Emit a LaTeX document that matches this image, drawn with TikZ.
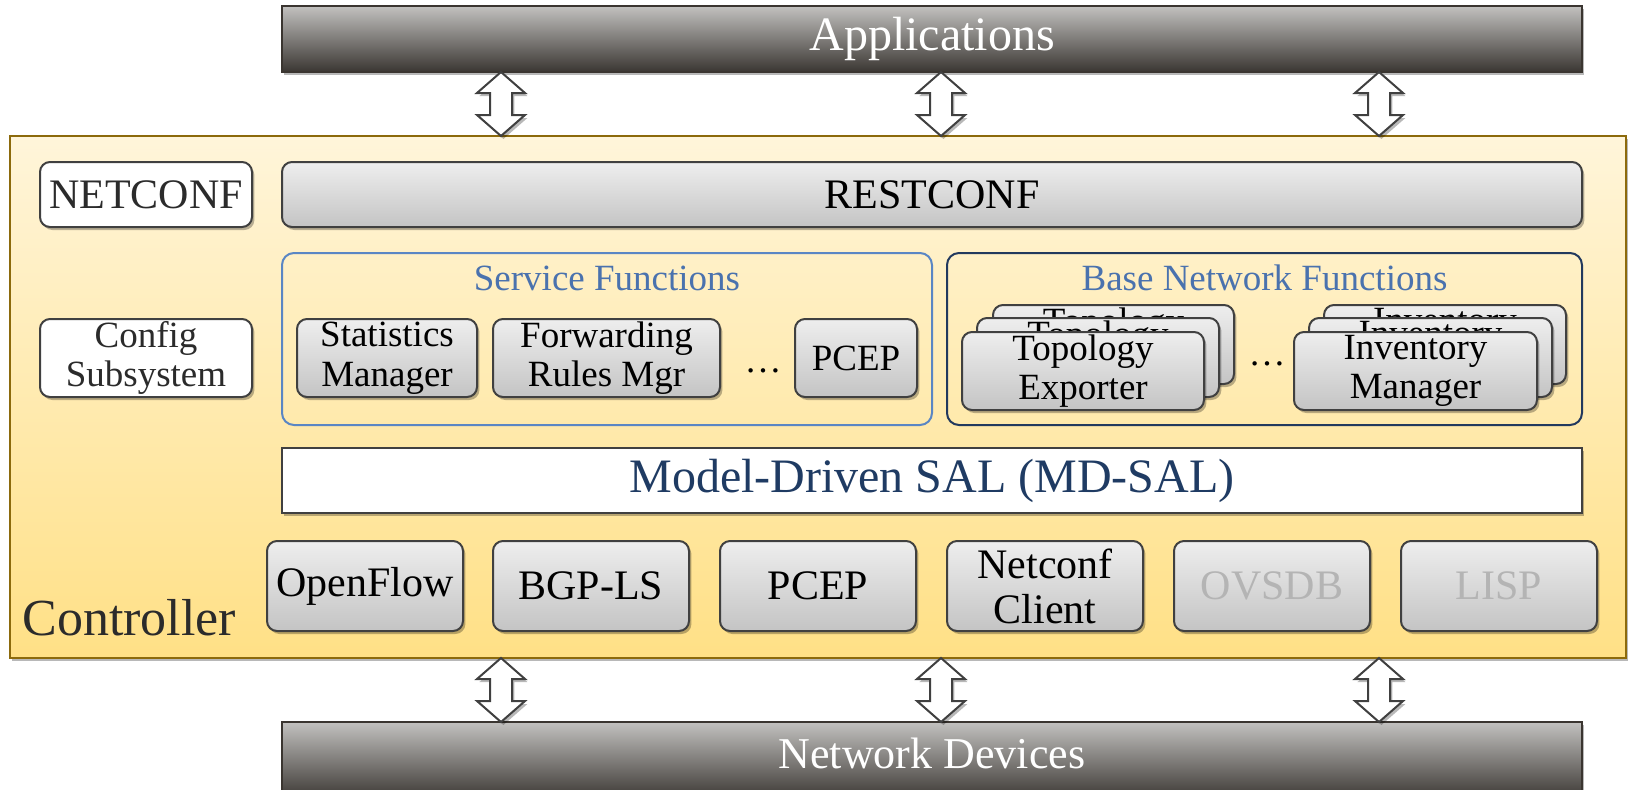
\documentclass[tikz,border=0pt]{standalone}
\usepackage{fontspec}
\setmainfont{Liberation Serif}
\usetikzlibrary{shadows,calc}
\definecolor{boxline}{HTML}{404040}
\definecolor{gtop}{HTML}{EEEEEE}
\definecolor{gbot}{HTML}{C4C4C4}
\definecolor{bartop}{HTML}{C2C1BF}
\definecolor{barbot}{HTML}{3A3632}
\definecolor{barline}{HTML}{3A3530}
\definecolor{ctrltop}{HTML}{FFF5DA}
\definecolor{ctrlbot}{HTML}{FFE086}
\definecolor{ctrlline}{HTML}{8C6A0C}
\definecolor{sfblue}{HTML}{5A86C4}
\definecolor{bnblue}{HTML}{22395E}
\definecolor{titleblue}{HTML}{4A72AE}
\definecolor{mdblue}{HTML}{1F3B63}
\definecolor{fadetext}{HTML}{B4B4B4}
\definecolor{darktext}{HTML}{2B2B2B}
\newcommand\fsz[2]{\fontsize{#1}{#2}\selectfont}
\newcommand\bx[7]{\node[#6, minimum width={(#4-#2)*0.5pt}, minimum height={(#5-#3)*0.5pt}] (#1) at ({(#2+#4)/2},{(#3+#5)/2}) {#7};}
\newcommand\dblarrow[2]{\draw[blockarrow] (#1) -- ++(24,21) -- ++(-13,0) -- ($(#2)+(11,-21)$) -- ++(13,0) -- (#2) -- ++(-24,-21) -- ++(13,0) -- ($(#1)+(-11,21)$) -- ++(-13,0) -- cycle;}
\tikzset{
  softshadow/.style={drop shadow={shadow xshift=1.2pt, shadow yshift=-1.5pt, opacity=0.28, fill=black}},
  basebox/.style={draw=boxline, line width=1pt, rounded corners=5pt, inner sep=0pt, outer sep=0pt, align=center, softshadow, text=black},
  gbox/.style={basebox, top color=gtop, bottom color=gbot},
  wbox/.style={basebox, fill=white, text=darktext},
  barstyle/.style={draw=barline, line width=0.8pt, top color=bartop, bottom color=barbot, inner sep=0pt, outer sep=0pt, softshadow, text=white},
  ctrlstyle/.style={draw=ctrlline, line width=1pt, top color=ctrltop, bottom color=ctrlbot, inner sep=0pt, outer sep=0pt, softshadow},
  sfcont/.style={draw=sfblue, line width=1pt, rounded corners=6pt, inner sep=0pt, outer sep=0pt},
  bncont/.style={draw=bnblue, line width=1pt, rounded corners=6pt, inner sep=0pt, outer sep=0pt},
  titletext/.style={text=titleblue, font=\fsz{18.5}{20}, inner sep=0pt, anchor=base},
  mdstyle/.style={draw=boxline, line width=1pt, fill=white, inner sep=0pt, outer sep=0pt, softshadow, text=mdblue, font=\fsz{24}{26}},
  blockarrow/.style={draw=boxline, fill=white, line width=1pt, line join=miter, softshadow},
  midfont/.style={font=\fsz{18.5}{19.8}},
  bigfont/.style={font=\fsz{21}{22.5}},
}
\begin{document}
\begin{tikzpicture}[x=0.5pt, y=-0.5pt]
\useasboundingbox (0,0) rectangle (1628,789);
% top and bottom bars
\bx{apps}{282}{6}{1582}{72}{barstyle, font=\fsz{24}{26}}{Applications}
\bx{devs}{282}{722}{1582}{800}{barstyle}{}
\node[text=white, font=\fsz{22}{24}, inner sep=0pt] (devslabel) at (932,753) {Network Devices};
% controller
\bx{ctrl}{10}{136}{1626}{658}{ctrlstyle}{}
\node[anchor=base west, inner sep=0pt, text=darktext, font=\fsz{26}{28}] (ctrllabel) at (22,635) {Controller};
% arrows
\coordinate (t1a) at (501,0 |- apps.south);
\coordinate (t1b) at (501,0 |- ctrl.north);
\coordinate (t2a) at (941,0 |- apps.south);
\coordinate (t2b) at (941,0 |- ctrl.north);
\coordinate (t3a) at (1379,0 |- apps.south);
\coordinate (t3b) at (1379,0 |- ctrl.north);
\coordinate (b1a) at (501,0 |- ctrl.south);
\coordinate (b1b) at (501,0 |- devs.north);
\coordinate (b2a) at (941,0 |- ctrl.south);
\coordinate (b2b) at (941,0 |- devs.north);
\coordinate (b3a) at (1379,0 |- ctrl.south);
\coordinate (b3b) at (1379,0 |- devs.north);
\dblarrow{t1a}{t1b}
\dblarrow{t2a}{t2b}
\dblarrow{t3a}{t3b}
\dblarrow{b1a}{b1b}
\dblarrow{b2a}{b2b}
\dblarrow{b3a}{b3b}
% top row
\bx{netconf}{40}{162}{252}{227}{wbox, bigfont}{NETCONF}
\bx{restconf}{282}{162}{1582}{227}{gbox, bigfont}{RESTCONF}
% containers
\bx{sf}{282}{253}{932}{425}{sfcont}{}
\bx{bnf}{947}{253}{1582}{425}{bncont}{}
\node[titletext] (sftitle) at (607,290) {Service Functions};
\node[titletext] (bnftitle) at (1264.5,290) {Base Network Functions};
% middle row
\bx{config}{40}{319}{252}{397}{wbox, midfont}{Config\\Subsystem}
\bx{stats}{297}{319}{477}{397}{gbox, midfont}{Statistics\\Manager}
\bx{frm}{493}{319}{720}{397}{gbox, midfont}{Forwarding\\Rules Mgr}
\node[midfont, inner sep=0pt, anchor=base] (sfdots) at (763,372) {\dots};
\bx{pcepsf}{795}{319}{917}{397}{gbox, midfont}{PCEP}
\bx{topo3}{993}{305}{1234}{384}{gbox, midfont}{Topology\\Exporter}
\bx{topo2}{977}{318}{1219}{397}{gbox, midfont}{Topology\\Exporter}
\bx{topo1}{962}{332}{1204}{410}{gbox, midfont}{Topology\\Exporter}
\node[midfont, inner sep=0pt, anchor=base] (bnfdots) at (1267,365) {\dots};
\bx{inv3}{1324}{305}{1566}{384}{gbox, midfont}{Inventory\\Manager}
\bx{inv2}{1309}{318}{1552}{397}{gbox, midfont}{Inventory\\Manager}
\bx{inv1}{1294}{332}{1537}{410}{gbox, midfont}{Inventory\\Manager}
% MD-SAL
\bx{mdsal}{282}{448}{1582}{513}{mdstyle}{Model-Driven SAL (MD-SAL)}
% southbound row
\bx{openflow}{267}{541}{463}{631}{gbox, bigfont}{OpenFlow}
\bx{bgpls}{493}{541}{689}{631}{gbox, bigfont}{BGP-LS}
\bx{pcepsb}{720}{541}{916}{631}{gbox, bigfont}{PCEP}
\bx{netconfc}{947}{541}{1143}{631}{gbox, bigfont}{Netconf\\Client}
\bx{ovsdb}{1174}{541}{1370}{631}{gbox, bigfont, text=fadetext}{OVSDB}
\bx{lisp}{1401}{541}{1597}{631}{gbox, bigfont, text=fadetext}{LISP}
\end{tikzpicture}
\end{document}
